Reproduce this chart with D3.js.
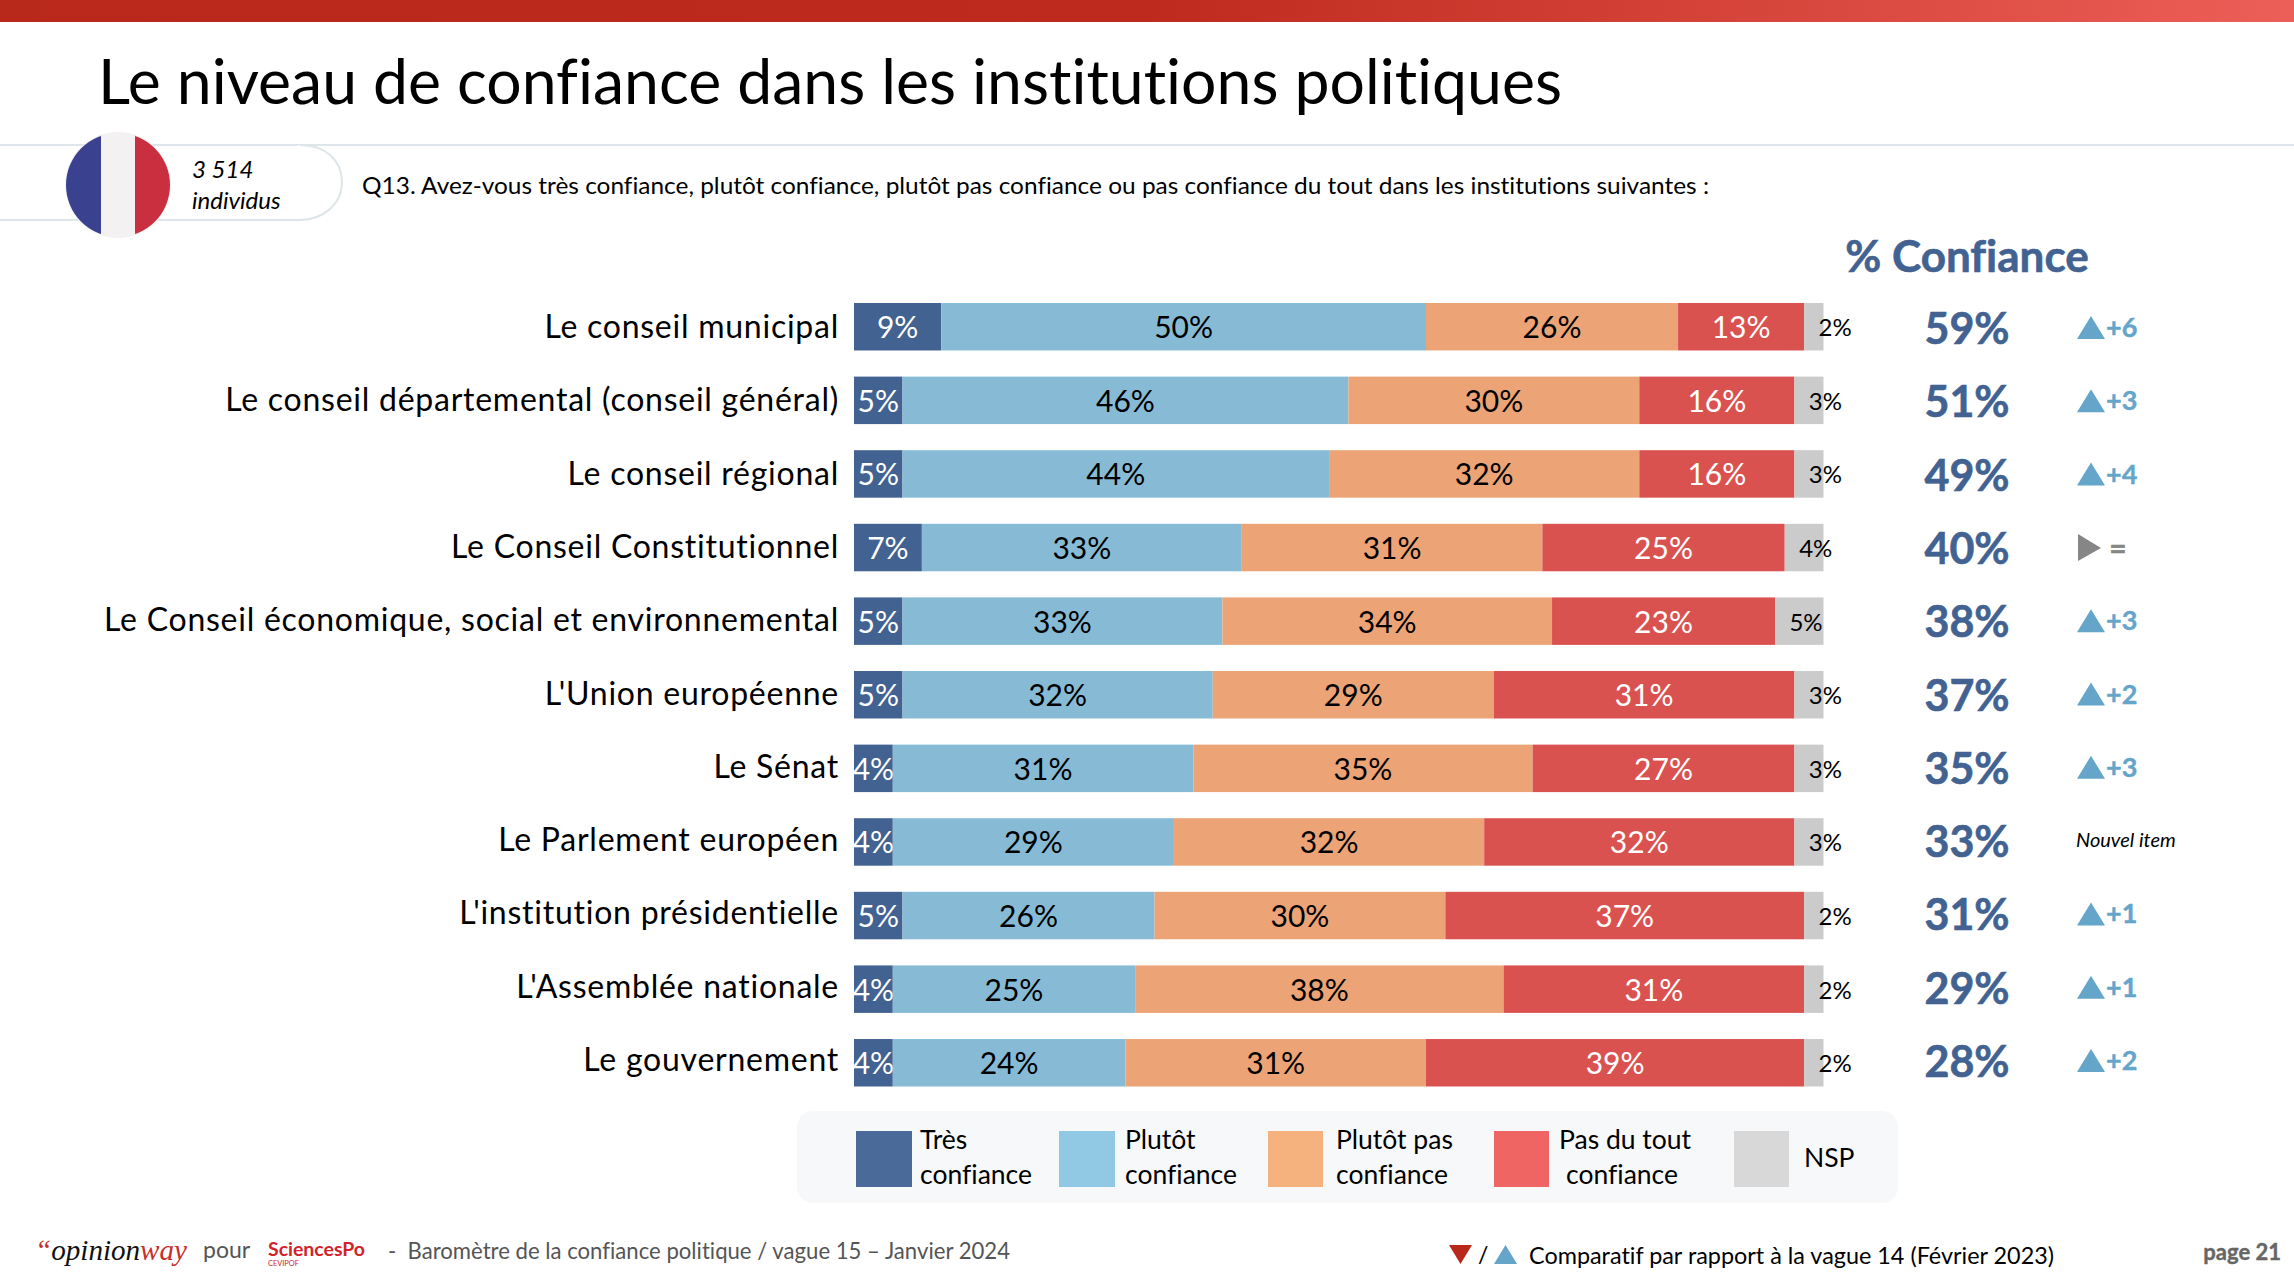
<!DOCTYPE html>
<html><head><meta charset="utf-8">
<script src="https://cdn.jsdelivr.net/npm/d3@7/dist/d3.min.js"></script>
<style>html,body{margin:0;padding:0;background:#fff}svg{display:block}text{font-family:Lato,sans-serif;font-variant-ligatures:none}</style>
</head><body><svg id="c" width="2294" height="1282"></svg>
<script>
const categories=["Le conseil municipal","Le conseil départemental (conseil général)","Le conseil régional","Le Conseil Constitutionnel","Le Conseil économique, social et environnemental","L'Union européenne","Le Sénat","Le Parlement européen","L'institution présidentielle","L'Assemblée nationale","Le gouvernement"];
const tres=[9,5,5,7,5,5,4,4,5,4,4];
const plutot=[50,46,44,33,33,32,31,29,26,25,24];
const plutotPas=[26,30,32,31,34,29,35,32,30,38,31];
const pasDuTout=[13,16,16,25,23,31,27,32,37,31,39];
const nsp=[2,3,3,4,5,3,3,3,2,2,2];
const confiance=[59,51,49,40,38,37,35,33,31,29,28];
const evolution=["+6","+3","+4","=","+3","+2","+3",null,"+1","+1","+2"];
const legendLabels=[["Très","confiance"],["Plutôt","confiance"],["Plutôt pas","confiance"],["Pas du tout"," confiance"],["NSP"]];
const seriesKeys=["tres","plutot","plutotPas","pasDuTout","nsp"];
const barColors=["#426291","#87bbd5","#eca476","#da5250","#cbcbcb"];
const legendColors=["#4a6a9a","#91c8e4","#f5b27f","#ee6563","#d8d8d8"];
const labelColors=["#fff","#000","#000","#fff","#000"];

const svg=d3.select("#c");
const defs=svg.append("defs");
const g=defs.append("linearGradient").attr("id","top");
g.append("stop").attr("offset","0").attr("stop-color","#b8281b");
g.append("stop").attr("offset","0.5").attr("stop-color","#bf2a1e");
g.append("stop").attr("offset","0.83").attr("stop-color","#dc4c42");
g.append("stop").attr("offset","1").attr("stop-color","#ec5f58");
svg.append("rect").attr("width",2294).attr("height",22).attr("fill","url(#top)");

function T(x,y,s,size,o={}){
  const t=svg.append("text").attr("x",x).attr("y",y).text(s).attr("font-size",size)
    .attr("fill",o.fill||"#000").attr("text-anchor",o.anchor||"start")
    .attr("font-weight",o.weight||400).attr("font-style",o.style||"normal")
    .style("font-family",o.family||null).attr("xml:space","preserve");
  if(o.len) t.attr("textLength",o.len).attr("lengthAdjust","spacingAndGlyphs");
  if(o.ls) t.style("letter-spacing",o.ls+"px");
  if(o.stroke) t.attr("stroke",o.fill||"#000").attr("stroke-width",o.stroke);
  return t;
}
T(98,104,"Le niveau de confiance dans les institutions politiques",61,{len:1464});

// header pill
svg.append("line").attr("x1",0).attr("x2",2294).attr("y1",145).attr("y2",145).attr("stroke","#dfe6ea").attr("stroke-width",2);
svg.append("path").attr("d","M0,220H300C322,220 342,205 342,182C342,160 325,145 300,145").attr("fill","#fff").attr("stroke","#dfe6ea").attr("stroke-width",2);
// flag
defs.append("clipPath").attr("id","flag").append("circle").attr("cx",118).attr("cy",185).attr("r",52);
svg.append("circle").attr("cx",118).attr("cy",185).attr("r",53).attr("fill","#f4f1f3");
const fl=svg.append("g").attr("clip-path","url(#flag)");
fl.append("rect").attr("x",66).attr("y",133).attr("width",35).attr("height",104).attr("fill","#3a4290");
fl.append("rect").attr("x",101).attr("y",133).attr("width",34).attr("height",104).attr("fill","#f4f1f3");
fl.append("rect").attr("x",135).attr("y",133).attr("width",36).attr("height",104).attr("fill","#c92f3f");
T(192,178,"3 514",24,{style:"italic"});
T(192,209,"individus",24,{style:"italic"});
T(362,194,"Q13. Avez-vous très confiance, plutôt confiance, plutôt pas confiance ou pas confiance du tout dans les institutions suivantes :",24,{len:1347});

// chart
const rows=categories.map((c,i)=>({cat:c,tres:tres[i],plutot:plutot[i],plutotPas:plutotPas[i],pasDuTout:pasDuTout[i],nsp:nsp[i]}));
const x=d3.scaleLinear().domain([0,100]).range([854,1823.5]);
const y=d3.scaleBand().domain(categories).range([303,1086.5]).paddingInner(0.355);
const yText=d3.scalePoint().domain(categories).range([327,1060]);
const stacked=d3.stack().keys(seriesKeys)(rows);
stacked.forEach((s,k)=>{
  const gg=svg.append("g");
  gg.selectAll("rect").data(s).join("rect")
    .attr("x",d=>x(d[0])).attr("y",d=>y(d.data.cat))
    .attr("width",d=>x(d[1])-x(d[0])).attr("height",y.bandwidth()).attr("fill",barColors[k]);
  gg.selectAll("text").data(s).join("text")
    .attr("x",d=>k===4?x(d[0])+31:(x(d[0])+x(d[1]))/2)
    .attr("y",d=>y(d.data.cat)+y.bandwidth()/2+(k===4?9.5:11.5))
    .attr("text-anchor","middle").attr("font-size",k===4?24:30).attr("fill",labelColors[k])
    .text(d=>(d[1]-d[0])+"%");
});
categories.forEach((c,i)=>{
  const m=yText(c), e=evolution[i];
  T(839,m+11,c,32,{anchor:"end",ls:0.75});
  T(1967,m+17,confiance[i]+"%",43,{anchor:"middle",weight:700,fill:"#426291",stroke:0.6});
  if(e===null){ T(2076,m+7,"Nouvel item",20,{style:"italic"}); }
  else if(e==="="){
    svg.append("path").attr("d",d3.line()([[2078,m-13],[2101,m+1],[2078,m+14]])+"Z").attr("fill","#868686");
    T(2118,m+12,"=",30,{anchor:"middle",weight:700,fill:"#868686",stroke:0.5});
  } else {
    svg.append("path").attr("d",d3.line()([[2077,m+12],[2091,m-11],[2105,m+12]])+"Z").attr("fill","#64a5c9");
    T(2106,m+10,e,27,{weight:700,fill:"#64a5c9",stroke:0.4});
  }
});
T(1967,272,"% Confiance",44,{anchor:"middle",weight:700,fill:"#426291",stroke:0.6});

// legend
svg.append("rect").attr("x",797).attr("y",1111).attr("width",1101).attr("height",92).attr("rx",16).attr("fill","#f7f8fa");
const legendX=[856,1059,1268,1494,1734];
const legendTextX=[[920,920],[1125,1125],[1336,1336],[1559,1566],[1804]];
legendLabels.forEach((l,i)=>{
  svg.append("rect").attr("x",legendX[i]).attr("y",1131).attr("width",i<2?56:55).attr("height",56).attr("fill",legendColors[i]);
  if(l.length===1) T(legendTextX[i][0],1167,l[0],26.5);
  else { T(legendTextX[i][0],1149,l[0],26.5); T(legendTextX[i][1],1184,l[1].trim(),26.5); }
});

// footer
const op=T(35,1260,"",30,{family:"'Liberation Serif',serif",style:"italic",len:152});
op.append("tspan").attr("fill","#c8302b").text("“");
op.append("tspan").attr("fill","#111").text("opinion");
op.append("tspan").attr("fill","#c8302b").text("way");
T(203,1258,"pour",23,{fill:"#555"});
T(268,1256,"SciencesPo",19,{fill:"#d2232a",weight:700,len:97});
T(268,1266,"CEVIPOF",7,{fill:"#d2232a",len:31});
T(388,1259,"-  Baromètre de la confiance politique / vague 15 – Janvier 2024",23,{fill:"#555",len:622});
svg.append("path").attr("d",d3.line()([[1449,1245],[1472,1245],[1460.5,1264]])+"Z").attr("fill","#b8281b");
T(1478,1263,"/",23);
svg.append("path").attr("d",d3.line()([[1494,1264],[1505.5,1245],[1517,1264]])+"Z").attr("fill","#64a5c9");
T(1529,1264,"Comparatif par rapport à la vague 14 (Février 2023)",24,{len:525});
T(2281,1260,"page 21",22,{anchor:"end",weight:700,fill:"#666",stroke:0.4});
</script></body></html>
